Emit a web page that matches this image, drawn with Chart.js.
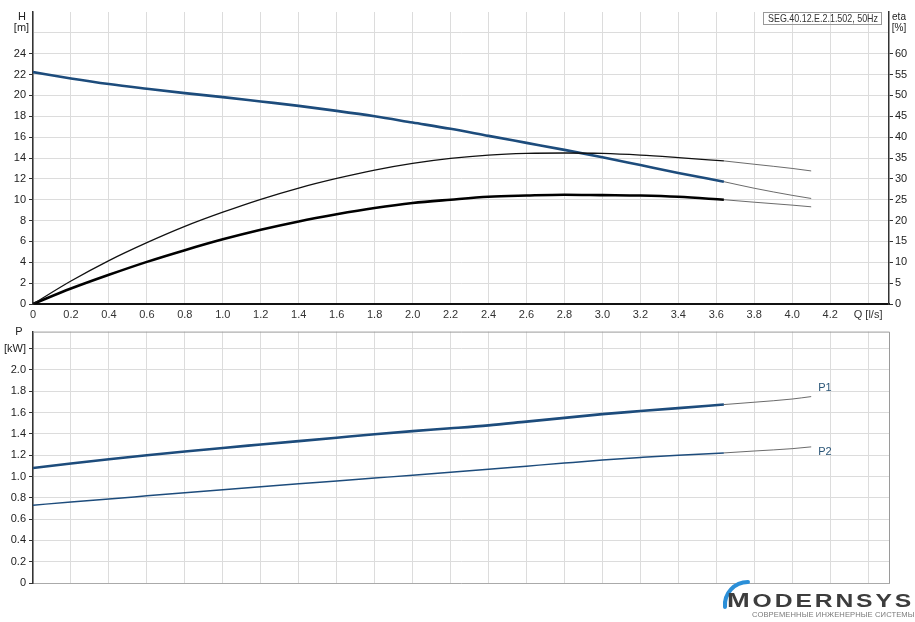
<!DOCTYPE html>
<html>
<head>
<meta charset="utf-8">
<script src="https://cdn.jsdelivr.net/npm/chart.js@4.4.1/dist/chart.umd.min.js"></script>
<style>
  html, body { margin: 0; padding: 0; background: #fff; }
  body { width: 915px; height: 622px; position: relative; overflow: hidden; font-family: 'Liberation Sans', Arial, sans-serif; }
  #topChart { position: absolute; left: 0; top: 0; }
  #bottomChart { position: absolute; left: 0; top: 322px; }
  #logoArc { position: absolute; left: 708px; top: 574px; }
  .brand { position: absolute; left: 727px; top: 590px; font-size: 19px; line-height: 19px; font-weight: bold; color: #3d3d3d; letter-spacing: 2.2px; transform: scaleX(1.3); transform-origin: left top; white-space: nowrap; }
  .brand .big { font-size: 21px; }
  .tag { position: absolute; left: 752px; top: 611px; font-size: 7.6px; line-height: 8px; color: #7a7a7a; letter-spacing: 0.1px; white-space: nowrap; }
</style>
</head>
<body>
<canvas id="topChart" width="915" height="322"></canvas>
<canvas id="bottomChart" width="915" height="300"></canvas>
<svg id="logoArc" width="50" height="40">
  <path d="M 17 33 A 23 23 0 0 1 40 8" stroke="#2b8fd8" stroke-width="4" fill="none" stroke-linecap="round"/>
</svg>
<div class="brand"><span class="big">M</span>ODERNSYS</div>
<div class="tag">СОВРЕМЕННЫЕ ИНЖЕНЕРНЫЕ СИСТЕМЫ</div>
<script>
// Flow points (l/s): the thick part of each curve, then the thin extension
const qMain = [0, 0.2, 0.4, 0.6, 0.8, 1.0, 1.2, 1.4, 1.6, 1.8, 2.0, 2.2, 2.4, 2.6, 2.8, 3.0, 3.2, 3.4, 3.64];
const qExt = [3.64, 3.8, 4.0, 4.1];

// Head H [m]
const headMain = [22.24, 21.63, 21.09, 20.64, 20.22, 19.84, 19.42, 19.0, 18.52, 18.0, 17.4, 16.8, 16.12, 15.45, 14.78, 14.08, 13.32, 12.56, 11.73];
const headExt = [11.73, 11.1, 10.42, 10.12];

// Efficiency eta [%]: pump (thin) and total (thick)
const etaPumpMain = [0, 5.5, 10.4, 14.7, 18.6, 22.0, 25.1, 27.8, 30.1, 32.1, 33.7, 34.9, 35.7, 36.1, 36.2, 36.1, 35.7, 35.1, 34.3];
const etaPumpExt = [34.3, 33.5, 32.5, 31.9];
const etaTotalMain = [0, 3.7, 7.0, 10.1, 12.9, 15.5, 17.8, 19.8, 21.5, 23.0, 24.2, 25.0, 25.7, 26.0, 26.2, 26.1, 26.0, 25.7, 25.0];
const etaTotalExt = [25.0, 24.4, 23.7, 23.3];

// Power P [kW]
const p1Main = [1.08, 1.122, 1.162, 1.2, 1.235, 1.268, 1.3, 1.332, 1.364, 1.396, 1.426, 1.452, 1.48, 1.515, 1.55, 1.585, 1.614, 1.642, 1.675];
const p1Ext = [1.675, 1.697, 1.727, 1.75];
const p2Main = [0.73, 0.761, 0.789, 0.818, 0.847, 0.876, 0.904, 0.932, 0.958, 0.985, 1.012, 1.04, 1.068, 1.097, 1.126, 1.154, 1.178, 1.2, 1.221];
const p2Ext = [1.221, 1.239, 1.261, 1.278];

// Tick values
const qTicks = [0, 0.2, 0.4, 0.6, 0.8, 1.0, 1.2, 1.4, 1.6, 1.8, 2.0, 2.2, 2.4, 2.6, 2.8, 3.0, 3.2, 3.4, 3.6, 3.8, 4.0, 4.2, 4.4];
const headTicks = [0, 2, 4, 6, 8, 10, 12, 14, 16, 18, 20, 22, 24, 26];
const etaTicks = [0, 5, 10, 15, 20, 25, 30, 35, 40, 45, 50, 55, 60];
const powerTicks = [0, 0.2, 0.4, 0.6, 0.8, 1.0, 1.2, 1.4, 1.6, 1.8, 2.0, 2.2];

const pumpName = 'SEG.40.12.E.2.1.502, 50Hz';

const FONT = "'Liberation Sans', Arial, sans-serif";
const BLUE = '#1d4c7c';
const EXT = '#5a5a5a';
const GRID = '#dcdcdc';

Chart.defaults.font.family = FONT;
Chart.defaults.font.size = 11;
Chart.defaults.color = '#222';

function pts(xs, ys) {
    return xs.map((x, i) => ({ x: x, y: ys[i] }));
}

function line(xs, ys, color, width, axis) {
    return {
        data: pts(xs, ys),
        borderColor: color,
        borderWidth: width,
        yAxisID: axis,
        pointRadius: 0,
        fill: false,
        cubicInterpolationMode: 'monotone'
    };
}

function setTicks(values) {
    return function(scale) {
        scale.ticks = values.map(v => ({ value: v }));
    };
}

function fmt(v) {
    return v === 0 ? '0' : v.toFixed(1);
}

// Texts on the top chart: axis names and pump name box
const topLabels = {
    id: 'topLabels',
    afterDraw(chart) {
        const ctx = chart.ctx;
        ctx.save();
        ctx.fillStyle = '#222';
        ctx.font = '11px ' + FONT;
        ctx.textAlign = 'center';
        ctx.textBaseline = 'middle';
        ctx.fillText('H', 22, 17);
        ctx.fillText('[m]', 21.5, 28);
        ctx.font = '10px ' + FONT;
        ctx.fillText('eta', 899, 17);
        ctx.fillText('[%]', 899, 28);

        ctx.strokeStyle = '#999';
        ctx.lineWidth = 1;
        ctx.strokeRect(763.5, 12.5, 118, 12);
        // squeeze the name into the box like the original narrow font
        ctx.font = '11px ' + FONT;
        ctx.textAlign = 'left';
        ctx.fillStyle = '#333';
        const w = ctx.measureText(pumpName).width;
        const sx = Math.min(1, 110 / w);
        ctx.translate(768, 19);
        ctx.scale(sx, 1);
        ctx.fillText(pumpName, 0, 0);
        ctx.restore();
    }
};

// Bottom chart: frame on top/right, axis name, curve names
const bottomLabels = {
    id: 'bottomLabels',
    afterDraw(chart) {
        const ctx = chart.ctx;
        const area = chart.chartArea;
        const xs = chart.scales.x;
        const ys = chart.scales.y;
        ctx.save();
        ctx.strokeStyle = '#9a9a9a';
        ctx.lineWidth = 1;
        ctx.beginPath();
        ctx.moveTo(area.left, area.top + 0.5);
        ctx.lineTo(area.right + 0.5, area.top + 0.5);
        ctx.lineTo(area.right + 0.5, area.bottom);
        ctx.stroke();

        ctx.fillStyle = '#222';
        ctx.font = '11px ' + FONT;
        ctx.textAlign = 'center';
        ctx.textBaseline = 'middle';
        ctx.fillText('P', 19, 10);

        ctx.fillStyle = '#2a5577';
        ctx.textAlign = 'left';
        const xEnd = xs.getPixelForValue(qExt[qExt.length - 1]);
        ctx.fillText('P1', xEnd + 7, ys.getPixelForValue(p1Ext[p1Ext.length - 1]) - 9);
        ctx.fillText('P2', xEnd + 7, ys.getPixelForValue(p2Ext[p2Ext.length - 1]) + 5);
        ctx.restore();
    }
};

new Chart(document.getElementById('topChart'), {
    type: 'line',
    data: {
        datasets: [
            line(qMain, etaPumpMain, '#111', 1.3, 'eta'),
            line(qExt, etaPumpExt, EXT, 0.9, 'eta'),
            line(qMain, etaTotalMain, '#000', 2.6, 'eta'),
            line(qExt, etaTotalExt, EXT, 0.9, 'eta'),
            line(qMain, headMain, BLUE, 2.6, 'y'),
            line(qExt, headExt, EXT, 0.9, 'y')
        ]
    },
    options: {
        responsive: false,
        animation: false,
        layout: { padding: { top: 12, left: 0, right: 0, bottom: 0 } },
        plugins: { legend: { display: false }, tooltip: { enabled: false } },
        scales: {
            x: {
                type: 'linear',
                min: 0,
                max: 4.51,
                afterBuildTicks: setTicks(qTicks),
                afterFit(scale) { scale.height = 18; },
                grid: { color: GRID, drawTicks: false },
                border: { color: '#111', width: 2 },
                ticks: {
                    padding: 4,
                    maxRotation: 0,
                    autoSkip: false,
                    color: '#333',
                    callback: v => v === 4.4 ? 'Q [l/s]' : fmt(v)
                }
            },
            y: {
                position: 'left',
                min: 0,
                max: 28,
                afterBuildTicks: setTicks(headTicks),
                afterFit(scale) { scale.width = 33; },
                grid: {
                    color: GRID,
                    tickLength: 4,
                    tickColor: c => (c.tick && c.tick.value === 26) ? 'rgba(0,0,0,0)' : '#333'
                },
                border: { color: '#333', width: 1.5 },
                ticks: {
                    padding: 3,
                    autoSkip: false,
                    color: '#222',
                    callback: v => v === 26 ? '' : String(v)
                }
            },
            eta: {
                position: 'right',
                min: 0,
                max: 70,
                afterBuildTicks: setTicks(etaTicks),
                afterFit(scale) { scale.width = 26; },
                grid: { drawOnChartArea: false, tickLength: 4, tickColor: '#333' },
                border: { color: '#333', width: 1.5 },
                ticks: { padding: 2, autoSkip: false, color: '#222' }
            }
        }
    },
    plugins: [topLabels]
});

new Chart(document.getElementById('bottomChart'), {
    type: 'line',
    data: {
        datasets: [
            line(qMain, p1Main, BLUE, 2.6, 'y'),
            line(qExt, p1Ext, EXT, 0.9, 'y'),
            line(qMain, p2Main, BLUE, 1.5, 'y'),
            line(qExt, p2Ext, EXT, 0.9, 'y')
        ]
    },
    options: {
        responsive: false,
        animation: false,
        layout: { padding: { top: 5, left: 0, right: 26, bottom: 0 } },
        plugins: { legend: { display: false }, tooltip: { enabled: false } },
        scales: {
            x: {
                type: 'linear',
                min: 0,
                max: 4.51,
                afterBuildTicks: setTicks(qTicks),
                afterFit(scale) { scale.height = 39; },
                grid: { color: GRID, drawTicks: false },
                border: { color: '#aaa', width: 1 },
                ticks: { display: false }
            },
            y: {
                min: 0,
                max: 2.36,
                afterBuildTicks: setTicks(powerTicks),
                afterFit(scale) { scale.width = 33; },
                grid: { color: GRID, tickLength: 4, tickColor: '#333' },
                border: { color: '#333', width: 1.5 },
                ticks: {
                    padding: 3,
                    autoSkip: false,
                    color: '#222',
                    callback: v => Math.abs(v - 2.2) < 1e-6 ? '[kW]' : fmt(v)
                }
            }
        }
    },
    plugins: [bottomLabels]
});
</script>
</body>
</html>
